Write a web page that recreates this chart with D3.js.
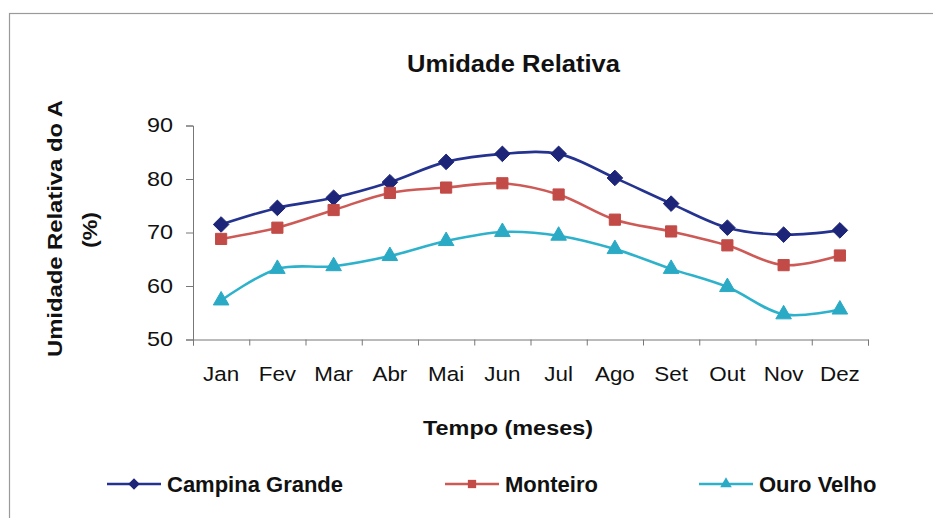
<!DOCTYPE html>
<html>
<head>
<meta charset="utf-8">
<script src="https://cdn.jsdelivr.net/npm/d3@7"></script>
<style>
  body { margin: 0; background: #fff; }
  text { font-family: "Liberation Sans", Arial, sans-serif; fill: #111; }
</style>
</head>
<body>
<div id="chart"></div>
<script>
// Size of the page
let width = 933;
let height = 518;

// Data
let months = ['Jan', 'Fev', 'Mar', 'Abr', 'Mai', 'Jun', 'Jul', 'Ago', 'Set', 'Out', 'Nov', 'Dez'];
let campinaGrande = [71.5, 74.6, 76.5, 79.4, 83.2, 84.7, 84.7, 80.2, 75.4, 70.9, 69.6, 70.4];
let monteiro = [68.8, 70.9, 74.2, 77.4, 78.4, 79.2, 77.1, 72.4, 70.2, 67.6, 63.9, 65.7];
let ouroVelho = [57.3, 63.2, 63.7, 65.6, 68.4, 70.1, 69.4, 66.9, 63.2, 59.8, 54.7, 55.6];
let yTicks = [50, 60, 70, 80, 90];
let seriesNames = ['Campina Grande', 'Monteiro', 'Ouro Velho'];

// Series table built from the arrays above
let series = [
    {name: seriesNames[0], values: campinaGrande, color: '#24338f', marker: '#1c2578', symbol: d3.symbolDiamond2, size: 155},
    {name: seriesNames[1], values: monteiro, color: '#cd5a56', marker: '#c24b47', symbol: d3.symbolSquare, size: 125},
    {name: seriesNames[2], values: ouroVelho, color: '#2eb2cb', marker: '#2aaac4', symbol: d3.symbolTriangle, size: 105}
];

// Plot area
let plotLeft = 193, plotRight = 868, plotTop = 125.5, plotBottom = 339.5;

let x = d3.scaleBand().domain(months).range([plotLeft, plotRight]).padding(0);
let xEdges = d3.scaleLinear().domain([0, months.length]).range([plotLeft, plotRight]);
let y = d3.scaleLinear().domain([50, 90]).range([plotBottom, plotTop]);

let svg = d3.select('#chart')
.append('svg')
.attr('width', width)
.attr('height', height);

svg.append('rect').attr('width', width).attr('height', height).attr('fill', '#fff');

// Frame, only top and left sides are inside the picture
svg.append('rect')
.attr('x', 9.5).attr('y', 13.5)
.attr('width', 1000).attr('height', 1000)
.attr('fill', 'none').attr('stroke', '#9a9a9a').attr('stroke-width', 1.2);

// Title
svg.append('text')
.attr('x', 513.5).attr('y', 72)
.attr('text-anchor', 'middle')
.attr('font-size', 23).attr('font-weight', 'bold')
.attr('textLength', 213).attr('lengthAdjust', 'spacingAndGlyphs')
.text('Umidade Relativa');

// Y axis
let yAxis = svg.append('g')
.attr('transform', 'translate(' + plotLeft + ',0)')
.call(d3.axisLeft(y).tickValues(yTicks).tickSize(7).tickPadding(13));
yAxis.select('.domain').attr('stroke', '#777');
yAxis.selectAll('.tick line').attr('stroke', '#777');
yAxis.selectAll('.tick text')
.attr('font-size', 20).attr('fill', '#222')
.attr('x', -20 / 1.17)
.attr('transform', 'scale(1.17,1)');

// X axis: tick marks on the category edges
let xAxis = svg.append('g')
.attr('transform', 'translate(0,' + plotBottom + ')')
.call(d3.axisBottom(xEdges).tickValues(d3.range(months.length + 1)).tickSize(6).tickFormat(''));
xAxis.select('.domain').attr('stroke', '#777');
xAxis.selectAll('.tick line').attr('stroke', '#777');

// Month labels in the centre of each category
let xLabels = svg.append('g')
.attr('transform', 'translate(0,' + plotBottom + ')')
.call(d3.axisBottom(x).tickSize(0).tickPadding(28));
xLabels.select('.domain').remove();
xLabels.selectAll('.tick text')
.attr('font-size', 19.5).attr('fill', '#1a1a1a')
.attr('transform', 'scale(1.15,1)');

// Axis titles
svg.append('text')
.attr('x', 508).attr('y', 435)
.attr('text-anchor', 'middle')
.attr('font-size', 20).attr('font-weight', 'bold')
.attr('textLength', 170).attr('lengthAdjust', 'spacingAndGlyphs')
.text('Tempo (meses)');

svg.append('clipPath').attr('id', 'yclip')
.append('rect').attr('x', 0).attr('y', 99).attr('width', 200).attr('height', 400);

let yTitle = svg.append('g').attr('clip-path', 'url(#yclip)');
yTitle.append('text')
.attr('transform', 'translate(62,357) rotate(-90) scale(1.19,1)')
.attr('font-size', 20).attr('font-weight', 'bold')
.text('Umidade Relativa do Ar');
yTitle.append('text')
.attr('transform', 'translate(97,230) rotate(-90) scale(1.16,1)')
.attr('text-anchor', 'middle')
.attr('font-size', 20).attr('font-weight', 'bold')
.text('(%)');

// Lines
let line = d3.line()
.x(function(d, i) { return x(months[i]) + x.bandwidth() / 2; })
.y(function(d) { return y(d); })
.curve(d3.curveCatmullRom.alpha(0.5));

let plot = svg.append('g');

plot.selectAll('.series')
.data(series)
.enter()
.append('path')
.attr('class', 'series')
.attr('d', function(d) { return line(d.values); })
.attr('fill', 'none')
.attr('stroke', function(d) { return d.color; })
.attr('stroke-width', 2.6);

// Markers
series.forEach(function(s) {
    let sym = d3.symbol().type(s.symbol).size(s.size);
    plot.append('g')
    .selectAll('path')
    .data(s.values)
    .enter()
    .append('path')
    .attr('d', sym)
    .attr('transform', function(d, i) {
        return 'translate(' + (x(months[i]) + x.bandwidth() / 2) + ',' + y(d) + ')';
    })
    .attr('fill', s.marker)
    .attr('stroke', s.marker)
    .attr('stroke-width', 1);
});

// Legend
let legendX = [107, 445, 699];
let legend = svg.append('g');
series.forEach(function(s, i) {
    let g = legend.append('g').attr('transform', 'translate(' + legendX[i] + ',484)');
    g.append('line')
    .attr('x1', 0).attr('x2', 54)
    .attr('stroke', s.color).attr('stroke-width', 2.6);
    g.append('path')
    .attr('d', d3.symbol().type(s.symbol).size(s.size * 0.55))
    .attr('transform', 'translate(27,0)')
    .attr('fill', s.marker);
    g.append('text')
    .attr('x', 60).attr('y', 8)
    .attr('font-size', 22).attr('font-weight', 'bold')
    .text(s.name);
});
</script>
</body>
</html>
